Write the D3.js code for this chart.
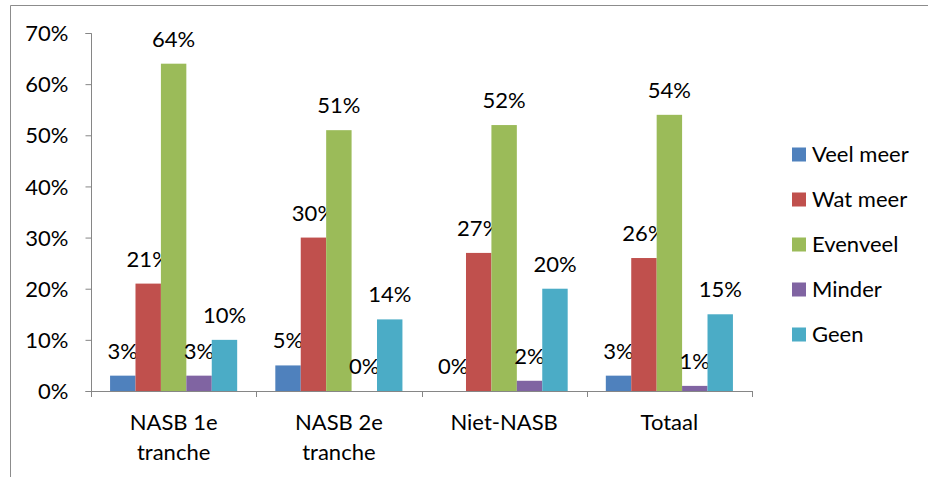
<!DOCTYPE html>
<html>
<head>
<meta charset="utf-8">
<script src="https://cdn.jsdelivr.net/npm/d3@7"></script>
<style>
  body { margin: 0; background: #fff; }
  svg text { font-family: Lato, "Open Sans", sans-serif; fill: #000; }
</style>
</head>
<body>
<svg id="chart" width="928" height="477"></svg>
<script>
// data
var categories = [["NASB 1e", "tranche"], ["NASB 2e", "tranche"], ["Niet-NASB"], ["Totaal"]];
var series = ["Veel meer", "Wat meer", "Evenveel", "Minder", "Geen"];
var colors = ["#4F81BD", "#C0504D", "#9BBB59", "#8064A2", "#4BACC6"];
var veelMeer = [3, 5, 0, 3];
var watMeer = [21, 30, 27, 26];
var evenveel = [64, 51, 52, 54];
var minder = [3, 0, 2, 1];
var geen = [10, 14, 20, 15];
var yTicks = [0, 10, 20, 30, 40, 50, 60, 70];

var values = [veelMeer, watMeer, evenveel, minder, geen];
var fontSize = "22px";

var svg = d3.select("#chart");

// chart frame (cropped on the right and bottom)
svg.append("path")
  .attr("d", "M10.5,477 L10.5,5.5 L928,5.5")
  .attr("fill", "none")
  .attr("stroke", "#8c8c8c")
  .attr("stroke-width", 1);

var plotLeft = 91, plotRight = 752, plotTop = 33, plotBottom = 391;

var x0 = d3.scaleBand()
  .domain(d3.range(categories.length))
  .range([plotLeft, plotRight]);

// gap width 150%
var gap = x0.bandwidth() * 1.5 / 6.5;
var x1 = d3.scaleBand()
  .domain(d3.range(series.length))
  .range([gap / 2, x0.bandwidth() - gap / 2]);

var y = d3.scaleLinear().domain([0, 70]).range([plotBottom, plotTop]);

// y axis
var yAxis = svg.append("g")
  .attr("transform", "translate(" + (plotLeft + 0.5) + ",0)")
  .call(d3.axisLeft(y).tickValues(yTicks).tickSize(6).tickPadding(17).tickFormat(function(d) { return d + "%"; }));
yAxis.selectAll("path, line").attr("stroke", "#868686");
yAxis.selectAll("text").style("font-size", fontSize).attr("dy", "0.35em");
yAxis.select(".domain").attr("d", "M-6," + (plotTop + 0.5) + "H0V" + (plotBottom + 0.5) + "H-6");

// bars
var groups = svg.append("g").selectAll("g")
  .data(series)
  .join("g")
  .attr("fill", function(d, i) { return colors[i]; });

groups.selectAll("rect")
  .data(function(d, i) { return values[i].map(function(v, c) { return { s: i, c: c, v: v }; }); })
  .join("rect")
  .attr("x", function(d) { return x0(d.c) + x1(d.s); })
  .attr("y", function(d) { return y(d.v); })
  .attr("width", x1.bandwidth())
  .attr("height", function(d) { return plotBottom - y(d.v); });

// value labels
groups.selectAll("text")
  .data(function(d, i) { return values[i].map(function(v, c) { return { s: i, c: c, v: v }; }); })
  .join("text")
  .attr("x", function(d) { return x0(d.c) + x1(d.s) + x1.bandwidth() / 2; })
  .attr("y", function(d) { return y(d.v) - 17; })
  .attr("text-anchor", "middle")
  .style("font-size", fontSize)
  .text(function(d) { return d.v + "%"; });

// x axis
var xAxis = svg.append("g");
xAxis.append("line")
  .attr("x1", plotLeft).attr("x2", plotRight)
  .attr("y1", plotBottom + 0.5).attr("y2", plotBottom + 0.5)
  .attr("stroke", "#868686");
xAxis.selectAll("line.tick")
  .data(d3.range(categories.length + 1))
  .join("line")
  .attr("class", "tick")
  .attr("x1", function(d) { return Math.round(plotLeft + d * x0.bandwidth()) + 0.5; })
  .attr("x2", function(d) { return Math.round(plotLeft + d * x0.bandwidth()) + 0.5; })
  .attr("y1", plotBottom).attr("y2", plotBottom + 6)
  .attr("stroke", "#868686");
xAxis.selectAll("text")
  .data(categories)
  .join("text")
  .attr("text-anchor", "middle")
  .style("font-size", fontSize)
  .each(function(lines, i) {
    var t = d3.select(this);
    lines.forEach(function(line, k) {
      t.append("tspan")
        .attr("x", x0(i) + x0.bandwidth() / 2)
        .attr("y", 430 + k * 30)
        .text(line);
    });
  });

// legend
var legend = svg.append("g").selectAll("g")
  .data(series)
  .join("g")
  .attr("transform", function(d, i) { return "translate(792," + (154.5 + i * 45) + ")"; });
legend.append("rect")
  .attr("x", 0).attr("y", -7)
  .attr("width", 14).attr("height", 14)
  .attr("fill", function(d, i) { return colors[i]; });
legend.append("text")
  .attr("x", 20).attr("y", 0)
  .attr("dy", "0.35em")
  .style("font-size", fontSize)
  .text(function(d) { return d; });
</script>
</body>
</html>
